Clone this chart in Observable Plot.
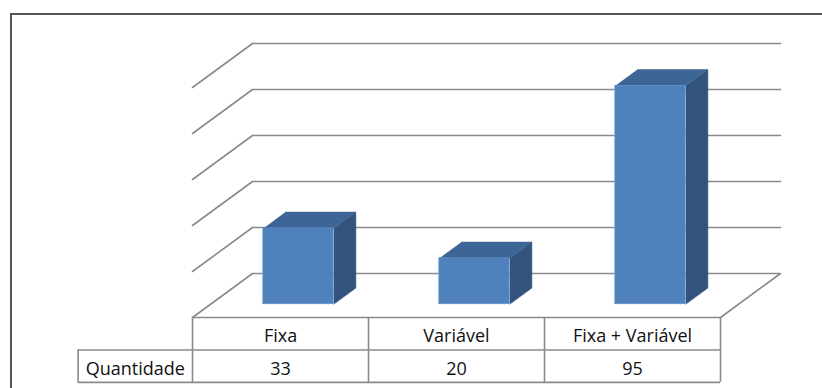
<!DOCTYPE html>
<html><head><meta charset="utf-8">
<script src="https://cdn.jsdelivr.net/npm/d3@7"></script>
<script src="https://cdn.jsdelivr.net/npm/@observablehq/plot@0.6"></script>
<style>
body{margin:0;background:#fff;}
#wrap{position:relative;width:822px;height:388px;overflow:hidden;background:#fff;}
#frame{position:absolute;left:10px;top:13px;width:900px;height:500px;border:2px solid #555;box-sizing:border-box;pointer-events:none;}
#chart{position:absolute;left:0;top:0;}
</style></head><body>
<div id="wrap"><div id="chart"></div><div id="frame"></div></div>
<script>
// ---- data ----
const categories = ["Fixa", "Variável", "Fixa + Variável"];
const values = [33, 20, 95];
const seriesName = "Quantidade";
const gridTicks = [0, 20, 40, 60, 80, 100];

// ---- oblique 3D projection (x: category units, z: depth 0=front..1=back, v: value) ----
const kx = 60 / 176;   // horizontal shift (category units) per unit depth
const ky = 44 / 2.3;   // vertical shift (value units) per unit depth
const P = (x, z, v) => ({X: x + z * kx, Y: v + z * ky});

const barX0 = 0.3, barX1 = 0.7, barZ0 = 0.3, barZ1 = 0.67;
const rowH = 14.1, labelColW = 0.65;

const bars = categories.map((c, i) => ({c, i, v: values[i]}));

// gridlines (side wall + back wall), floor outline for 0
const grid = [];
gridTicks.forEach(t => {
  const pts = t === 0
    ? [P(0,0,0), P(0,1,0), P(3,1,0), P(3,0,0)]
    : [P(0,0,t), P(0,1,t), P(3,1,t)];
  pts.forEach(p => grid.push({...p, k: t}));
});

const fronts = bars.map(b => {
  const a = P(b.i + barX0, barZ0, 0), d = P(b.i + barX1, barZ0, b.v);
  return {x1: a.X, x2: d.X, y1: a.Y, y2: d.Y};
});
const tops = [], sides = [];
bars.forEach(b => {
  [[barX0,barZ0],[barX1,barZ0],[barX1,barZ1],[barX0,barZ1]].forEach(([x,z]) =>
    tops.push({...P(b.i + x, z, b.v), k: b.c}));
  [[barZ0,0],[barZ1,0],[barZ1,b.v],[barZ0,b.v]].forEach(([z,v]) =>
    sides.push({...P(b.i + barX1, z, v), k: b.c}));
});

// data table lines (front plane, below floor)
const tableH = [
  {x1: 0, x2: 3, y: 0},
  {x1: -labelColW, x2: 3, y: -rowH},
  {x1: -labelColW, x2: 3, y: -2 * rowH}
];
const tableV = [
  {x: -labelColW, y1: -rowH, y2: -2 * rowH},
  ...[0, 1, 2, 3].map(x => ({x, y1: 0, y2: -2 * rowH}))
];
const headerCells = categories.map((c, i) => ({x: i + 0.5, y: -rowH / 2, t: c}));
const valueCells = values.map((v, i) => ({x: i + 0.5, y: -1.5 * rowH, t: String(v)}));
const rowLabel = [{x: -labelColW / 2, y: -1.5 * rowH, t: seriesName}];

const originX = 192, colPx = 176, originY = 317, pxPerUnit = 2.3, W = 822, H = 388;

const chart = Plot.plot({
  width: W, height: H, margin: 0,
  style: {background: "transparent", fontFamily: "'Open Sans', sans-serif"},
  x: {type: "linear", domain: [-originX / colPx, (W - originX) / colPx], range: [0, W], axis: null},
  y: {type: "linear", domain: [(originY - H) / pxPerUnit, originY / pxPerUnit], range: [H, 0], axis: null},
  marks: [
    Plot.line(grid, {x: "X", y: "Y", z: "k", stroke: "#8a8a8a", strokeWidth: 1.6}),
    Plot.ruleY(tableH, {x1: "x1", x2: "x2", y: "y", stroke: "#8a8a8a", strokeWidth: 1.6}),
    Plot.ruleX(tableV, {x: "x", y1: "y1", y2: "y2", stroke: "#8a8a8a", strokeWidth: 1.6}),
    Plot.line(sides, {x: "X", y: "Y", z: "k", fill: "#32547c", stroke: "#32547c", strokeWidth: 0.5}),
    Plot.line(tops, {x: "X", y: "Y", z: "k", fill: "#3d6595", stroke: "#3d6595", strokeWidth: 0.5}),
    Plot.rect(fronts, {x1: "x1", x2: "x2", y1: "y1", y2: "y2", fill: "#4f81bd", stroke: "#6a95c8", strokeWidth: 0.6}),
    Plot.text(headerCells, {x: "x", y: "y", text: "t", fontSize: 18, fill: "#111", dy: 3}),
    Plot.text(valueCells, {x: "x", y: "y", text: "t", fontSize: 18, fill: "#111", dy: 3}),
    Plot.text(rowLabel, {x: "x", y: "y", text: "t", fontSize: 18, fill: "#111", dy: 3})
  ]
});
document.getElementById("chart").appendChild(chart);
</script>
</body></html>
